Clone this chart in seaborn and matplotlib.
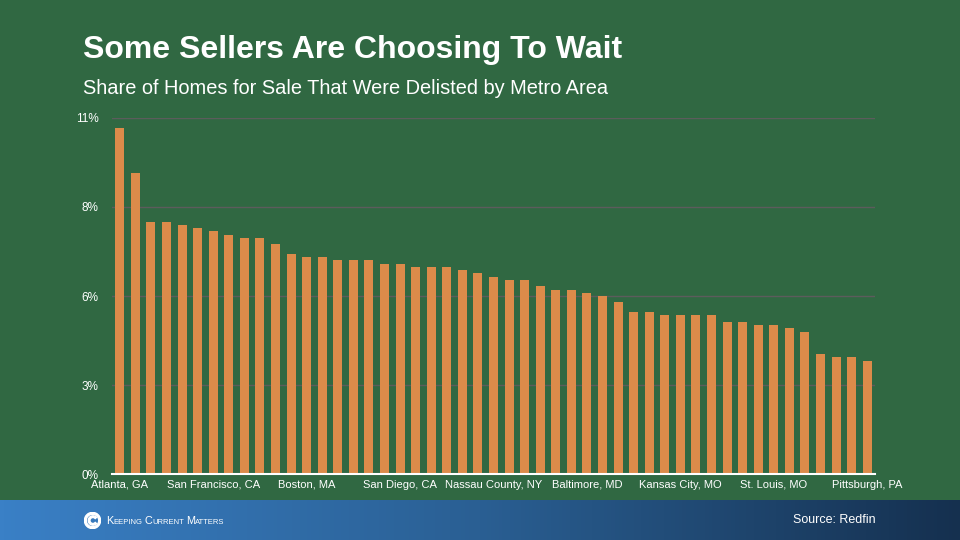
import numpy as np
import pandas as pd
import matplotlib
matplotlib.use("Agg")
import matplotlib.pyplot as plt
import seaborn as sns
from matplotlib.patches import Wedge
from matplotlib.colors import LinearSegmentedColormap

# ---- data ----
delisted_share = [10.7, 9.3, 7.8, 7.8, 7.7, 7.6, 7.5, 7.4, 7.3, 7.3,
                  7.1, 6.8, 6.7, 6.7, 6.6, 6.6, 6.6, 6.5, 6.5, 6.4,
                  6.4, 6.4, 6.3, 6.2, 6.1, 6.0, 6.0, 5.8, 5.7, 5.7,
                  5.6, 5.5, 5.3, 5.0, 5.0, 4.9, 4.9, 4.9, 4.9, 4.7,
                  4.7, 4.6, 4.6, 4.5, 4.4, 3.7, 3.6, 3.6, 3.5]
shown_labels = ["Atlanta, GA", "San Francisco, CA", "Boston, MA", "San Diego, CA",
                "Nassau County, NY", "Baltimore, MD", "Kansas City, MO",
                "St. Louis, MO", "Pittsburgh, PA"]
y_ticks = [0, 2.75, 5.5, 8.25, 11]
y_tick_labels = ["0%", "3%", "6%", "8%", "11%"]
title = "Some Sellers Are Choosing To Wait"
subtitle = "Share of Homes for Sale That Were Delisted by Metro Area"
source = "Source: Redfin"
logo_words = ["Keeping", "Current", "Matters"]

GREEN = "#306842"
ORANGE = "#DC8B4A"

plt.rcParams['font.family'] = ['Liberation Sans', 'DejaVu Sans']

fig = plt.figure(figsize=(9.6, 5.4), dpi=100, facecolor=GREEN)
ax = fig.add_axes([0.1167, 0.1222, 0.7948, 0.6593])
ax.set_facecolor(GREEN)

df = pd.DataFrame({"rank": list(range(len(delisted_share))), "share": delisted_share})
sns.barplot(data=df, x="rank", y="share", color=ORANGE, saturation=1,
            width=0.58, ax=ax, zorder=3)

ax.set_ylim(0, 11)
ax.set_xlim(-0.5, len(delisted_share) - 0.5)
ax.set_yticks(y_ticks)
ax.set_yticklabels(y_tick_labels)
step = 6
ax.set_xticks(list(range(0, len(delisted_share), step)))
ax.set_xticklabels(shown_labels)
ax.tick_params(axis='both', length=0, colors='white')
ax.tick_params(axis='y', pad=9.5, labelsize=8.5)
ax.tick_params(axis='x', pad=4, labelsize=8)
ax.set_xlabel("")
ax.set_ylabel("")
ax.grid(axis='y', color='#5c5c5c', linewidth=1, zorder=0)
ax.set_axisbelow(True)
for s in ["top", "right", "left"]:
    ax.spines[s].set_visible(False)
ax.spines["bottom"].set_color("white")
ax.spines["bottom"].set_linewidth(1.5)
ax.spines["bottom"].set_zorder(4)

fig.text(83/960, 1 - 50/540, title, color="white", fontsize=23, fontweight="bold",
         ha="left", va="center")
fig.text(83/960, 1 - 88/540, subtitle, color="white", fontsize=14.4,
         ha="left", va="center")

# footer band with gradient
fax = fig.add_axes([0, 0, 1, 40/540])
grad = np.linspace(0, 1, 256).reshape(1, -1)
cmap = LinearSegmentedColormap.from_list("band", ["#3A80C6", "#2A5F93", "#15304F"])
fax.imshow(grad, aspect="auto", cmap=cmap, extent=[0, 1, 0, 1])
fax.set_xlim(0, 1)
fax.set_ylim(0, 1)
fax.axis("off")

# logo icon
icon_ax = fig.add_axes([84/960, 11/540, 17/960, 17/540])
icon_ax.set_xlim(-1, 1)
icon_ax.set_ylim(-1, 1)
icon_ax.set_aspect("equal")
icon_ax.axis("off")
icon_ax.add_patch(Wedge((0, 0), 0.95, 0, 360, width=0.22, color="white"))
icon_ax.add_patch(Wedge((0.05, 0), 0.55, 40, 320, width=0.2, color="white"))

# logo text in small caps, laid out piece by piece
renderer = fig.canvas.get_renderer()
x_px = 106.0
base_y = 15.5 / 540
for i, word in enumerate(logo_words):
    t1 = fig.text(x_px/960, base_y, word[0].upper(), color="white", fontsize=7.8,
                  ha="left", va="baseline")
    x_px += t1.get_window_extent(renderer).width
    t2 = fig.text(x_px/960, base_y, word[1:].upper(), color="white", fontsize=5.5,
                  ha="left", va="baseline")
    x_px += t2.get_window_extent(renderer).width + 2

fig.text(876/960, 20/540, source, color="white", fontsize=9, ha="right", va="center")

fig.savefig("out.png", dpi=100, facecolor=GREEN)
